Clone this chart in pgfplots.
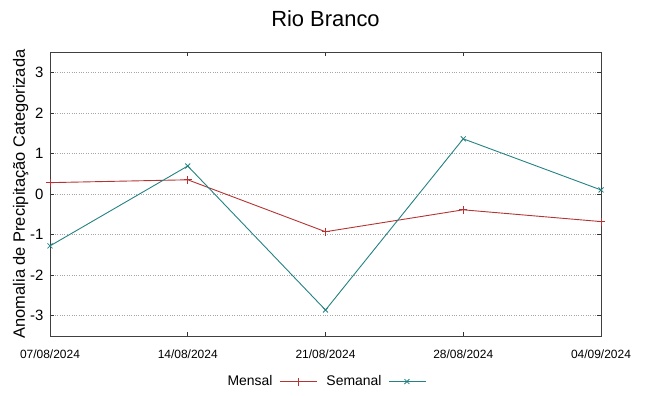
\documentclass[border=0pt]{standalone}
\usepackage{fontspec}
\setmainfont{Liberation Sans}
\usepackage{pgfplots}
\pgfplotsset{compat=1.18}
\definecolor{cmen}{RGB}{180,52,52}
\definecolor{csem}{RGB}{36,130,130}
\begin{document}
\begin{tikzpicture}
\begin{axis}[
  scale only axis,
  width=551bp, height=284bp,
  xmin=0, xmax=28, ymin=-3.5, ymax=3.5,
  xtick={0,7,14,21,28},
  xticklabels={07/08/2024,14/08/2024,21/08/2024,28/08/2024,04/09/2024},
  ytick={-3,-2,-1,0,1,2,3},
  /pgf/number format/assume math mode=true,
  tick align=inside,
  major tick length=4bp,
  tick style={black!80, line width=0.7bp},
  axis line style={black!75, line width=0.9bp},
  ymajorgrids,
  grid style={gray!70, dotted, line width=0.7bp},
  xticklabel style={font=\fontsize{12}{14}\selectfont, yshift=-10bp},
  yticklabel style={font=\fontsize{15}{17}\selectfont, xshift=-3bp},
  ylabel={Anomalia de Precipitação Categorizada},
  ylabel style={font=\fontsize{16.5}{18}\selectfont, yshift=-5bp},
  title={Rio Branco},
  title style={font=\fontsize{22}{26}\selectfont, yshift=16bp},
  legend columns=2,
  legend plot pos=right,
  legend style={draw=none, fill=none, font=\fontsize{14}{16}\selectfont,
    at={(0.5,-0.14)}, anchor=north, xshift=1.5bp,
    inner sep=0pt, outer sep=0pt,
    nodes={inner sep=0pt},
    /tikz/every even column/.append style={column sep=9bp}},
  legend image code/.code={
    \draw[#1] (0bp,0bp) -- (37bp,0bp);
    \draw[#1, only marks] plot coordinates {(18bp,0bp)};
  },
]
\coordinate (sw) at (rel axis cs:0,0);
\coordinate (ne) at (rel axis cs:1,1);
\addplot[cmen, line width=0.9bp, mark=+, mark size=4bp, mark options={line width=0.8bp}]
  coordinates {(0,0.28) (7,0.35) (14,-0.93) (21,-0.39) (28,-0.68)};
\addlegendentry{Mensal\kern7bp\null}
\addplot[csem, line width=0.9bp, mark=x, mark size=3.5bp, mark options={line width=0.8bp}]
  coordinates {(0,-1.28) (7,0.69) (14,-2.86) (21,1.36) (28,0.10)};
\addlegendentry{Semanal\kern7bp\null}
\end{axis}
\pgfresetboundingbox
\path ([shift={(-50bp,-60bp)}]sw) rectangle ([shift={(48bp,52bp)}]ne);
\end{tikzpicture}
\end{document}
